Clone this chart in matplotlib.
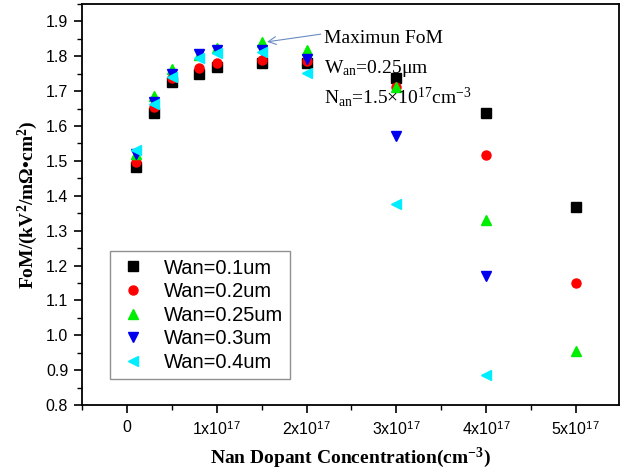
import numpy as np
import matplotlib
matplotlib.use("Agg")
import matplotlib.pyplot as plt
from matplotlib.ticker import MultipleLocator

### Data
x_conc = [0.1e17, 0.3e17, 0.5e17, 0.8e17, 1.0e17, 1.5e17, 2.0e17, 3.0e17, 4.0e17, 5.0e17]
fom_01 = [1.483, 1.636, 1.726, 1.750, 1.769, 1.781, 1.779, 1.738, 1.637, 1.368]
fom_02 = [1.497, 1.655, 1.736, 1.765, 1.781, 1.790, 1.785, 1.712, 1.518, 1.149]
fom_025 = [1.519, 1.685, 1.762, 1.803, 1.822, 1.841, 1.817, 1.712, 1.330, 0.954]
fom_03 = [1.520, 1.670, 1.748, 1.806, 1.817, 1.819, 1.793, 1.571, 1.170]
fom_04 = [1.530, 1.664, 1.739, 1.796, 1.808, 1.812, 1.752, 1.376, 0.887]

labels = ['Wan=0.1um', 'Wan=0.2um', 'Wan=0.25um', 'Wan=0.3um', 'Wan=0.4um']
series = [fom_01, fom_02, fom_025, fom_03, fom_04]
markers = ['s', 'o', '^', 'v', '<']
colors = ['#000000', '#ff0000', '#00ee00', '#0000ee', '#00eeff']

xtick_vals = [0, 1e17, 2e17, 3e17, 4e17, 5e17]
xtick_labels = ['0'] + ['%dx10$^{\\mathsf{17}}$' % i for i in range(1, 6)]

### Fonts
plt.rcParams['font.family'] = ['Liberation Sans', 'DejaVu Sans']
plt.rcParams['mathtext.fontset'] = 'custom'
plt.rcParams['mathtext.rm'] = 'Liberation Serif'
plt.rcParams['mathtext.sf'] = 'Liberation Sans'
plt.rcParams['mathtext.bf'] = 'Liberation Serif:bold'
plt.rcParams['mathtext.it'] = 'Liberation Serif:italic'

### Plot
fig = plt.figure(figsize=(6.27, 4.75), dpi=100)
ax = fig.add_axes([0.131, 0.147, 0.856, 0.845])

for vals, lab, m, c in zip(series, labels, markers, colors):
    ax.plot(x_conc[:len(vals)], vals, linestyle='none', marker=m, color=c,
            markersize=7.5 if m in '^v<' else 6.5, label=lab)

ax.set_xlim(-0.5e17, 5.48e17)
ax.set_ylim(0.8, 1.95)
ax.set_xticks(xtick_vals)
ax.set_xticklabels(xtick_labels)
ax.xaxis.set_minor_locator(MultipleLocator(0.5e17))
ax.yaxis.set_major_locator(MultipleLocator(0.1))
ax.yaxis.set_minor_locator(MultipleLocator(0.05))
ax.tick_params(which='major', direction='out', length=6, width=1.2, labelsize=11.5, pad=4)
ax.tick_params(which='minor', direction='out', length=3.5, width=1.0)
ax.tick_params(axis='x', pad=5)
for sp in ax.spines.values():
    sp.set_linewidth(1.3)

ax.set_xlabel('Nan Dopant Concentration(cm$^{\\mathbf{-3}}$)', family='Liberation Serif',
              fontweight='bold', fontsize=14, labelpad=5)
ax.set_ylabel('FoM/(kV$^{\\mathbf{2}}$/m\u03a9\u2022cm$^{\\mathbf{2}}$)', family='Liberation Serif',
              fontweight='bold', fontsize=14, labelpad=4)

leg = ax.legend(loc='lower left', bbox_to_anchor=(0.052, 0.065), borderaxespad=0,
                fontsize=14.5, frameon=True, fancybox=False, edgecolor='#909090',
                framealpha=1, handletextpad=0.7, labelspacing=0.23, borderpad=0.35,
                handlelength=1.6)
leg.get_frame().set_linewidth(1.0)

ann_font = dict(family='Liberation Serif', fontsize=14, va='center', ha='left')
ax.annotate('Maximun FoM', xy=(1.56e17, 1.841), xytext=(2.19e17, 1.852),
            arrowprops=dict(arrowstyle='->', color='#6a8cc4', lw=0.8,
                            shrinkA=0, shrinkB=0, relpos=(0, 0.75)),
            **ann_font)
ax.text(2.19e17, 1.766, 'W$_{\\mathrm{an}}$=0.25\u03bcm', **ann_font)
ax.text(2.19e17, 1.684, 'N$_{\\mathrm{an}}$=1.5\u00d710$^{\\mathrm{17}}$cm$^{\\mathrm{-3}}$', **ann_font)

plt.savefig('out.png', dpi=100)
